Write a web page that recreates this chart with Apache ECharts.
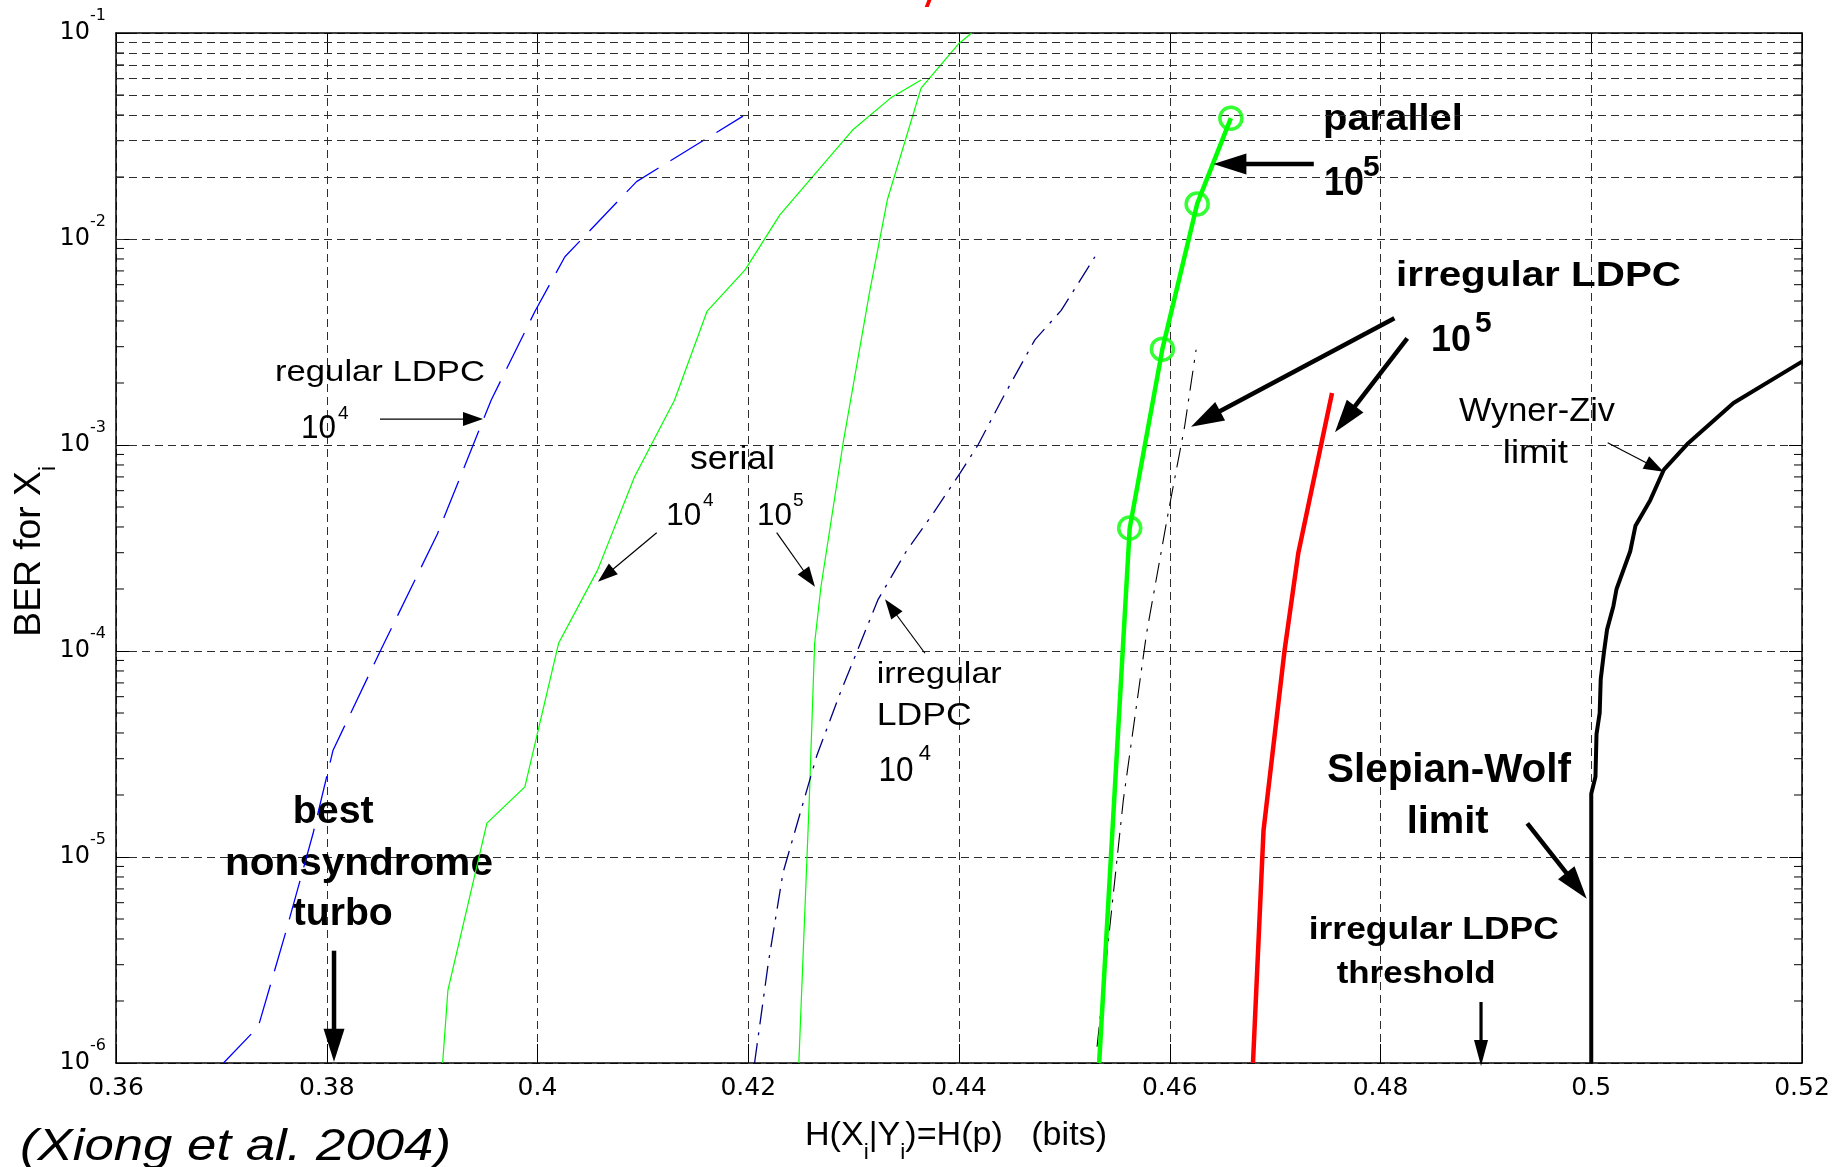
<!DOCTYPE html>
<html><head><meta charset="utf-8">
<script src="https://cdn.jsdelivr.net/npm/echarts@6/dist/echarts.min.js"></script>
<style>html,body{margin:0;padding:0;background:#fff;}#c{width:1848px;height:1167px;}</style>
</head><body><div id="c"></div>
<script>
// ================= DATA (H(X|Y) in bits, BER) =================
const yTickExponents = [-6, -5, -4, -3, -2, -1];
const xRange = [0.36, 0.52];
const xStep = 0.02;

const regularLDPC_1e4 = [[0.3702,1.0e-6],[0.3735,1.5e-6],[0.3761,4.3e-6],[0.3787,1.3e-5],[0.3806,3.3e-5],[0.3850,9.8e-5],[0.3905,3.7e-4],[0.3956,1.65e-3],[0.3998,4.5e-3],[0.4026,8.2e-3],[0.4094,1.9e-2],[0.4195,3.95e-2]];
const serial_1e4 = [[0.3910,1.0e-6],[0.3915,2.26e-6],[0.3952,1.46e-5],[0.3988,2.19e-5],[0.4020,1.09e-4],[0.4057,2.47e-4],[0.4092,7.0e-4],[0.4130,1.65e-3],[0.4161,4.47e-3],[0.4197,7.08e-3],[0.4230,1.31e-2],[0.4299,3.38e-2],[0.4335,4.83e-2],[0.4364,5.91e-2]];
const serial_1e5 = [[0.4248,1.0e-6],[0.4258,1.95e-5],[0.4263,1.09e-4],[0.4269,2.05e-4],[0.4290,1.02e-3],[0.4315,5.47e-3],[0.4332,1.55e-2],[0.4364,5.4e-2],[0.4400,8.9e-2],[0.4412,1.0e-1]];
const irregularLDPC_1e4 = [[0.4206,1.0e-6],[0.4219,3.05e-6],[0.4233,8.4e-6],[0.4265,3.1e-5],[0.4287,6.2e-5],[0.4323,1.77e-4],[0.4350,3.05e-4],[0.4376,4.7e-4],[0.4401,7.3e-4],[0.4418,1.0e-3],[0.4442,1.71e-3],[0.4472,3.24e-3],[0.4497,4.5e-3],[0.4529,8.2e-3]];
const parallel_1e5 = [[0.4533,1.0e-6],[0.4562,3.95e-4],[0.4593,2.92e-3],[0.4626,1.48e-2],[0.4658,3.86e-2]];
const irregularLDPC_1e5_dash = [[0.4531,1.2e-6],[0.4556,1.9e-5],[0.4578,1.22e-4],[0.4599,4.83e-4],[0.4614,1.22e-3],[0.4625,2.9e-3]];
const irregularLDPC_1e5 = [[0.4679,1.0e-6],[0.4689,1.35e-5],[0.4709,1.01e-4],[0.4722,2.99e-4],[0.4754,1.79e-3]];
const slepianWolf_wynerZiv = [[0.5000,1.0e-6],[0.5000,2.03e-5],[0.5004,2.45e-5],[0.5005,3.95e-5],[0.5008,5.0e-5],[0.5009,7.3e-5],[0.5012,9.8e-5],[0.5015,1.27e-4],[0.5021,1.65e-4],[0.5024,2.0e-4],[0.5037,3.05e-4],[0.5042,4.06e-4],[0.5056,5.4e-4],[0.5069,7.6e-4],[0.5092,1.02e-3],[0.5135,1.6e-3],[0.5200,2.54e-3]];

// annotation anchors: h = H value, L = log10(BER); text anchors are left/baseline
const annotationTexts = [
  {t:'regular LDPC', h:0.37509, L:-2.699, fs:30, w:210},
  {t:'10', h:0.37756, L:-2.976, fs:34, w:35},
  {t:'4', h:0.38107, L:-2.879, fs:19},
  {t:'serial', h:0.41447, L:-3.126, fs:33, w:85},
  {t:'10', h:0.41222, L:-3.398, fs:31, w:35},
  {t:'4', h:0.41571, L:-3.301, fs:19},
  {t:'10', h:0.42083, L:-3.398, fs:31, w:35},
  {t:'5', h:0.42425, L:-3.301, fs:19},
  {t:'irregular', h:0.43219, L:-4.165, fs:30, w:125},
  {t:'LDPC', h:0.43220, L:-4.3675, fs:32, w:95},
  {t:'10', h:0.43237, L:-4.642, fs:35, w:35},
  {t:'4', h:0.43618, L:-4.537, fs:22},
  {t:'parallel', h:0.47454, L:-1.479, fs:37, w:140, b:1},
  {t:'10', h:0.47464, L:-1.7947, fs:40, w:40, b:1},
  {t:'5', h:0.47834, L:-1.7015, fs:30, b:1},
  {t:'irregular LDPC', h:0.48147, L:-2.2393, fs:35, w:285, b:1},
  {t:'10', h:0.48479, L:-2.5549, fs:37, w:40, b:1},
  {t:'5', h:0.48896, L:-2.4583, fs:30, b:1},
  {t:'Wyner-Ziv', h:0.48745, L:-2.8917, fs:34, w:156},
  {t:'limit', h:0.49161, L:-3.0971, fs:33, w:65},
  {t:'best', h:0.37677, L:-4.8447, fs:39, w:81, b:1},
  {t:'nonsyndrome', h:0.37034, L:-5.0956, fs:39, w:268, b:1},
  {t:'turbo', h:0.37677, L:-5.3383, fs:39, w:100, b:1},
  {t:'Slepian-Wolf', h:0.47492, L:-4.6456, fs:40, w:244, b:1},
  {t:'limit', h:0.48248, L:-4.8932, fs:38, w:82, b:1},
  {t:'irregular LDPC', h:0.47319, L:-5.405, fs:32, w:250, b:1},
  {t:'threshold', h:0.47584, L:-5.6214, fs:32, w:159, b:1}
];
// arrows: from (h0,L0) to tip (h1,L1); kind: thin / thick / mid
const annotationArrows = [
  {h0:0.38505, L0:-2.874, h1:0.39483, L1:-2.874, k:'thin'},
  {h0:0.41131, L0:-3.4257, h1:0.40574, L1:-3.6636, k:'thin'},
  {h0:0.42270, L0:-3.4257, h1:0.42633, L1:-3.6879, k:'thin'},
  {h0:0.43677, L0:-4.011, h1:0.43298, L1:-3.749, k:'thin'},
  {h0:0.47367, L0:-1.636, h1:0.46414, L1:-1.636, k:'thick'},
  {h0:0.48132, L0:-2.385, h1:0.46202, L1:-2.911, k:'thick'},
  {h0:0.48254, L0:-2.482, h1:0.47568, L1:-2.938, k:'thick'},
  {h0:0.50156, L0:-2.9888, h1:0.50687, L1:-3.1296, k:'thin'},
  {h0:0.38069, L0:-5.4549, h1:0.38069, L1:-5.9937, k:'thick'},
  {h0:0.49393, L0:-4.8369, h1:0.49957, L1:-5.2024, k:'thick'},
  {h0:0.48954, L0:-5.7039, h1:0.48954, L1:-6.0146, k:'mid'}
];

// ================= CHART =================
const FONT = '"Liberation Sans", Arial, Helvetica, sans-serif';
const TICKFONT = '"DejaVu Sans", sans-serif';
const minorTickValues = [];
for (let i = 0; i < yTickExponents.length - 1; i++) {
  for (let m = 2; m <= 9; m++) minorTickValues.push(m * Math.pow(10, yTickExponents[i]));
}
const gridLine = {color:'#2e2e2e', width:1, type:[8,5]};

function lineSeries(name, data, style, z) {
  return {type:'line', name, data, showSymbol:false, symbol:'none', silent:true, clip:true,
    lineStyle: style, z: z || 3, emphasis:{disabled:true}, animation:false};
}

const chart = echarts.init(document.getElementById('c'), null, {renderer:'canvas', width:1848, height:1167});
const axisLineStyle = {color:'#000', width:1.5};
const option = {
  animation:false,
  backgroundColor:'#ffffff',
  grid:{left:116, right:46, top:33, bottom:104, containLabel:false, outerBoundsMode:'none'},
  xAxis:[
    {type:'value', min:xRange[0], max:xRange[1], interval:xStep, position:'bottom',
     axisLine:{show:true, onZero:false, lineStyle:axisLineStyle},
     axisTick:{show:true, inside:true, length:19, lineStyle:{color:'#000', width:1}},
     axisLabel:{show:true, margin:13, color:'#000', fontFamily:TICKFONT, fontSize:25, showMinLabel:true, showMaxLabel:true,
       formatter: v => String(+v.toFixed(2))},
     splitLine:{show:true, lineStyle:gridLine}},
    {type:'value', min:xRange[0], max:xRange[1], interval:xStep, position:'top',
     axisLine:{show:true, onZero:false, lineStyle:axisLineStyle},
     axisTick:{show:true, inside:true, length:19, lineStyle:{color:'#000', width:1}},
     axisLabel:{show:false}, splitLine:{show:false}}
  ],
  yAxis:[
    {type:'log', logBase:10, min:1e-6, max:1e-1, position:'left',
     axisLine:{show:true, onZero:false, lineStyle:axisLineStyle},
     axisTick:{show:true, inside:true, length:13, lineStyle:{color:'#000', width:1}},
     axisLabel:{show:true, margin:10, color:'#000', showMinLabel:true, showMaxLabel:true,
       formatter: v => '{b|10}{e|' + Math.round(Math.log10(v)) + '}',
       rich:{
         b:{fontSize:24, fontFamily:TICKFONT, color:'#000', lineHeight:50, verticalAlign:'middle'},
         e:{fontSize:16, fontFamily:TICKFONT, color:'#000', lineHeight:16, verticalAlign:'top'}
       }},
     splitLine:{show:true, lineStyle:gridLine}},
    {type:'log', logBase:10, min:1e-6, max:1e-1, position:'right',
     axisLine:{show:true, onZero:false, lineStyle:axisLineStyle},
     axisTick:{show:true, inside:true, length:13, lineStyle:{color:'#000', width:1}},
     axisLabel:{show:false}, splitLine:{show:false}}
  ],
  series:[
    {type:'custom', name:'minor', xAxisIndex:0, yAxisIndex:0, silent:true, z:2,
     data: minorTickValues.map(v => [xRange[0], v]), encode:{x:0, y:1},
     renderItem:(params, api) => {
       const p = api.coord([api.value(0), api.value(1)]);
       const cs = params.coordSys;
       return {type:'group', children:[
         {type:'line', shape:{x1:cs.x, y1:p[1], x2:cs.x+8, y2:p[1]}, style:{stroke:'#000', lineWidth:1}},
         {type:'line', shape:{x1:cs.x+cs.width-8, y1:p[1], x2:cs.x+cs.width, y2:p[1]}, style:{stroke:'#000', lineWidth:1}}
       ]};
     },
     markLine:{silent:true, symbol:['none','none'], label:{show:false}, lineStyle:gridLine, animation:false,
       emphasis:{disabled:true}, data: minorTickValues.map(v => ({yAxis:v}))}},
    lineSeries('regular LDPC 10^4', regularLDPC_1e4, {color:'#0000ff', width:1.3, type:[40,14]}),
    lineSeries('serial 10^4', serial_1e4, {color:'#00ff00', width:1.2}),
    lineSeries('serial 10^5', serial_1e5, {color:'#00ff00', width:1.2}),
    lineSeries('irregular LDPC 10^4', irregularLDPC_1e4, {color:'#000080', width:1.3, type:[20,8,3,8]}),
    lineSeries('irregular LDPC 10^5 (dash)', irregularLDPC_1e5_dash, {color:'#000000', width:1.1, type:[20,8,3,8]}),
    lineSeries('parallel 10^5', parallel_1e5, {color:'#00ff00', width:4.5}, 5),
    {type:'scatter', name:'parallel 10^5 markers', data: parallel_1e5.slice(1), symbol:'circle', symbolSize:22, silent:true, z:6,
     itemStyle:{color:'rgba(0,0,0,0)', borderColor:'#00ff00', borderWidth:3.5}, emphasis:{disabled:true}},
    lineSeries('irregular LDPC 10^5', irregularLDPC_1e5, {color:'#ff0000', width:4.5}, 5),
    lineSeries('Slepian-Wolf / Wyner-Ziv limit', slepianWolf_wynerZiv, {color:'#000000', width:4}, 5)
  ]
};
chart.setOption(option);

// ================= ANNOTATIONS =================
const mctx = document.createElement('canvas').getContext('2d');
function measure(t, fs, weight, style) {
  mctx.font = (style || 'normal') + ' ' + (weight || 'normal') + ' ' + fs + 'px ' + FONT;
  return mctx.measureText(t).width;
}
function run(pieces, x, y, rot, targetW) {
  let cx = 0; const children = [];
  pieces.forEach(p => {
    const w = measure(p.t, p.fs, p.weight, p.style);
    children.push({type:'text', x:cx, y:(p.dy || 0) - 0.33 * p.fs, silent:true,
      style:{text:p.t, fontSize:p.fs, fontFamily:FONT, fontWeight:p.weight || 'normal', fontStyle:p.style || 'normal',
        fill:p.fill || '#000', align:'left', verticalAlign:'middle'}});
    cx += w;
  });
  const s = targetW ? targetW / cx : 1;
  return {type:'group', x:x, y:y, rotation:rot || 0, scaleX:s, children, silent:true, z:100};
}
function toPx(h, L) {
  return chart.convertToPixel({xAxisIndex:0, yAxisIndex:0}, [h, Math.pow(10, L)]);
}
function arrowEls(p0, p1, k) {
  const cfg = {thin:{w:1.2, hl:20, hw:7}, thick:{w:4.5, hl:33, hw:10.5}, mid:{w:3.2, hl:26, hw:7}}[k];
  const dx = p1[0] - p0[0], dy = p1[1] - p0[1], len = Math.hypot(dx, dy), ux = dx / len, uy = dy / len;
  const bx = p1[0] - ux * cfg.hl, by = p1[1] - uy * cfg.hl;
  return [
    {type:'line', silent:true, z:100, shape:{x1:p0[0], y1:p0[1], x2:bx + ux * 2, y2:by + uy * 2}, style:{stroke:'#000', lineWidth:cfg.w}},
    {type:'polygon', silent:true, z:100, shape:{points:[[p1[0], p1[1]], [bx - uy * cfg.hw, by + ux * cfg.hw], [bx + uy * cfg.hw, by - ux * cfg.hw]]}, style:{fill:'#000'}}
  ];
}
const graphics = [];
annotationTexts.forEach(a => {
  const p = toPx(a.h, a.L);
  graphics.push(run([{t:a.t, fs:a.fs, weight:a.b ? 'bold' : 'normal'}], p[0], p[1], 0, a.w));
});
annotationArrows.forEach(a => {
  arrowEls(toPx(a.h0, a.L0), toPx(a.h1, a.L1), a.k).forEach(e => graphics.push(e));
});
// axis titles and caption (outside plot)
graphics.push(run([{t:'H(X', fs:33}, {t:'i', fs:22, dy:13}, {t:'|Y', fs:33}, {t:'i', fs:22, dy:13}, {t:')=H(p)   (bits)', fs:33}], 805, 1146.7, 0, 302));
graphics.push(run([{t:'BER for X', fs:36}, {t:'i', fs:24, dy:14}], 42.4, 636.7, Math.PI / 2, 171));
graphics.push(run([{t:'(Xiong et al. 2004)', fs:44, style:'italic'}], 20, 1162, 0, 431));
graphics.push(run([{t:'/', fs:34, style:'italic', weight:'bold', fill:'#ff0000'}], 926, 8, 0, 0));
chart.setOption({graphic: graphics});
</script>
</body></html>
